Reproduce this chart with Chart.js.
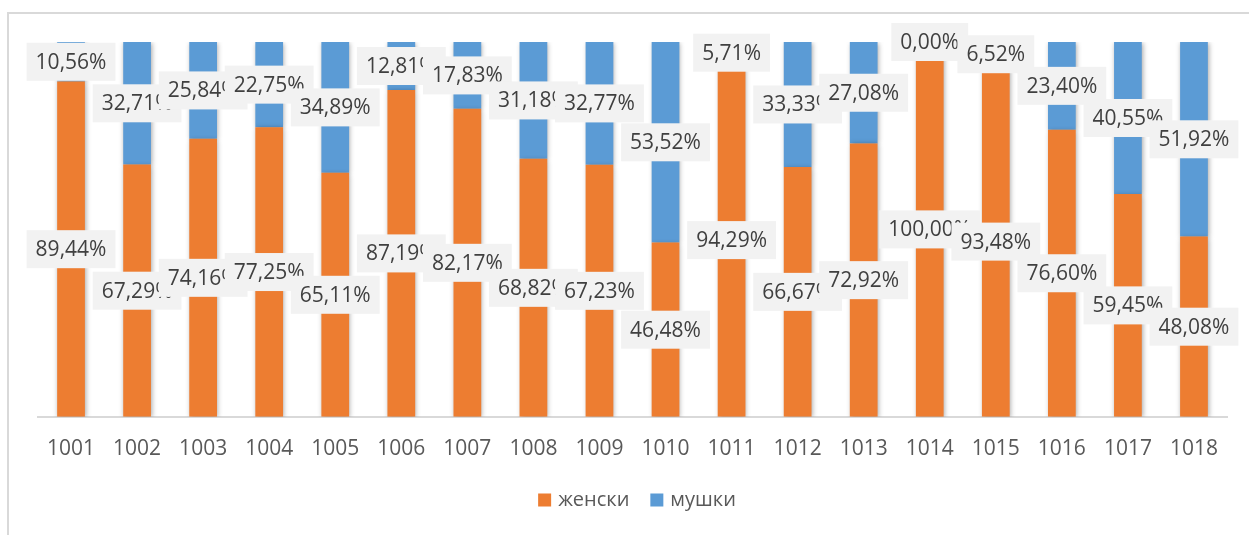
<!DOCTYPE html>
<html>
<head>
<meta charset="utf-8">
<script src="https://cdn.jsdelivr.net/npm/chart.js@4.4.1/dist/chart.umd.min.js"></script>
<style>
    html, body { margin: 0; padding: 0; background: #fff; }
    canvas { display: block; }
</style>
</head>
<body>
<canvas id="genderChart" width="1249" height="535"></canvas>
<script>
// Data (percent of each group)
const categories = ['1001', '1002', '1003', '1004', '1005', '1006', '1007', '1008', '1009',
                    '1010', '1011', '1012', '1013', '1014', '1015', '1016', '1017', '1018'];
const seriesNames = ['женски', 'мушки'];
const femaleValues = [89.44, 67.29, 74.16, 77.25, 65.11, 87.19, 82.17, 68.82, 67.23,
                      46.48, 94.29, 66.67, 72.92, 100.00, 93.48, 76.60, 59.45, 48.08];
const maleValues = [10.56, 32.71, 25.84, 22.75, 34.89, 12.81, 17.83, 31.18, 32.77,
                    53.52, 5.71, 33.33, 27.08, 0.00, 6.52, 23.40, 40.55, 51.92];

const ORANGE = '#ED7D31';
const BLUE = '#5B9BD5';
const FONT = '"Open Sans", "DejaVu Sans", sans-serif';

function fmtPct(v) {
    return v.toFixed(2).replace('.', ',') + '%';
}

// outer frame of the chart object
const framePlugin = {
    id: 'frame',
    beforeDraw(chart) {
        const ctx = chart.ctx;
        ctx.save();
        ctx.strokeStyle = '#d9d9d9';
        ctx.lineWidth = 2;
        ctx.beginPath();
        ctx.moveTo(8, chart.height + 5);
        ctx.lineTo(8, 13);
        ctx.lineTo(chart.width + 5, 13);
        ctx.stroke();
        ctx.restore();
    }
};

// soft shadow behind the bars
const barShadow = {
    id: 'barShadow',
    beforeDatasetDraw(chart) {
        const ctx = chart.ctx;
        ctx.save();
        ctx.shadowColor = 'rgba(0, 0, 0, 0.35)';
        ctx.shadowBlur = 5;
        ctx.shadowOffsetX = 1;
        ctx.shadowOffsetY = 1;
    },
    afterDatasetDraw(chart) {
        chart.ctx.restore();
    }
};

// value labels in light grey boxes, centred on each segment
const labelBoxes = {
    id: 'labelBoxes',
    afterDatasetsDraw(chart) {
        const ctx = chart.ctx;
        ctx.save();
        ctx.font = '21px ' + FONT;
        ctx.textAlign = 'center';
        ctx.textBaseline = 'middle';
        chart.data.datasets.forEach((ds, i) => {
            chart.getDatasetMeta(i).data.forEach((bar, j) => {
                const txt = fmtPct(ds.data[j]);
                const w = ctx.measureText(txt).width + 18;
                const h = 38;
                const cy = (bar.y + bar.base) / 2;
                ctx.fillStyle = '#f2f2f2';
                ctx.fillRect(bar.x - w / 2, cy - h / 2, w, h);
                ctx.fillStyle = '#404040';
                ctx.fillText(txt, bar.x, cy + 1);
            });
        });
        ctx.restore();
    }
};

// legend under the axis
const bottomLegend = {
    id: 'bottomLegend',
    afterDraw(chart) {
        const ctx = chart.ctx;
        ctx.save();
        ctx.font = '20px ' + FONT;
        ctx.textBaseline = 'middle';
        const box = 13, gap = 7, between = 21;
        const items = chart.data.datasets.map(ds => ({
            text: ds.label, color: ds.backgroundColor, w: ctx.measureText(ds.label).width
        }));
        const total = items.reduce((s, it) => s + box + gap + it.w, 0) + between * (items.length - 1);
        let x = 637 - total / 2;
        const cy = 500;
        items.forEach(it => {
            ctx.fillStyle = it.color;
            ctx.fillRect(x, cy - box / 2, box, box);
            ctx.fillStyle = '#595959';
            ctx.fillText(it.text, x + box + gap, cy);
            x += box + gap + it.w + between;
        });
        ctx.restore();
    }
};

new Chart(document.getElementById('genderChart'), {
    type: 'bar',
    data: {
        labels: categories,
        datasets: [{
            label: seriesNames[0],
            data: femaleValues,
            backgroundColor: ORANGE,
            barPercentage: 0.42,
            categoryPercentage: 1
        }, {
            label: seriesNames[1],
            data: maleValues,
            backgroundColor: BLUE,
            barPercentage: 0.42,
            categoryPercentage: 1
        }]
    },
    options: {
        responsive: false,
        animation: false,
        layout: {
            padding: { left: 38, right: 22, top: 42, bottom: 61 }
        },
        plugins: {
            legend: { display: false },
            tooltip: { enabled: false }
        },
        scales: {
            x: {
                stacked: true,
                grid: { display: false },
                border: { display: true, color: '#d9d9d9', width: 2 },
                ticks: {
                    color: '#595959',
                    font: { family: FONT, size: 21 },
                    padding: 12
                }
            },
            y: {
                stacked: true,
                display: false,
                min: 0,
                max: 100
            }
        }
    },
    plugins: [framePlugin, barShadow, labelBoxes, bottomLegend]
});
</script>
</body>
</html>
